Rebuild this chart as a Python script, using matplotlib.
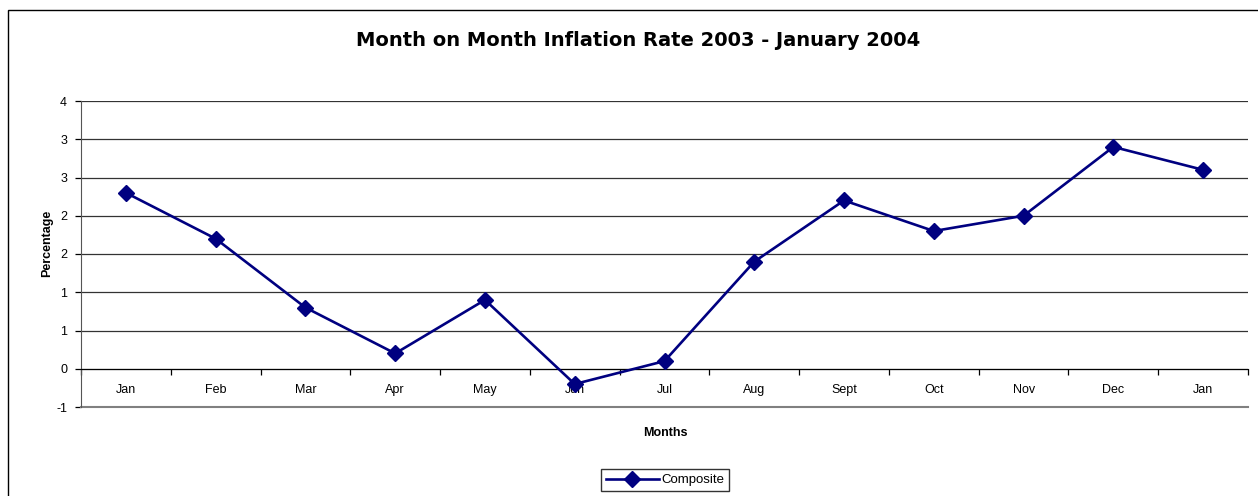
import numpy as np
import matplotlib.pyplot as plt
from matplotlib.patches import Rectangle
from matplotlib.ticker import FixedLocator

plt.rcParams['font.family'] = ['Liberation Sans', 'DejaVu Sans']
plt.rcParams['font.size'] = 9

months = ['Jan', 'Feb', 'Mar', 'Apr', 'May', 'Jun', 'Jul', 'Aug', 'Sept', 'Oct', 'Nov', 'Dec', 'Jan']
composite = [2.3, 1.7, 0.8, 0.2, 0.9, -0.2, 0.1, 1.4, 2.2, 1.8, 2.0, 2.9, 2.6]
y_ticks = [-0.5, 0.0, 0.5, 1.0, 1.5, 2.0, 2.5, 3.0, 3.5]


def excel_round(v):
    # labels are shown with no decimals, halves rounded away from zero
    return str(int(np.sign(v) * np.floor(abs(v) + 0.5)))


fig = plt.figure(figsize=(12.58, 4.96), dpi=100)
ax = fig.add_axes([81 / 1258, 1 - 407 / 496, (1248 - 81) / 1258, (407 - 101) / 496])

x = np.arange(len(months))
ax.plot(x, composite, color='#000080', lw=1.9, marker='D', markersize=8,
        markerfacecolor='#000080', markeredgecolor='#000080', label='Composite', zorder=3)

ax.set_xlim(-0.5, len(months) - 0.5)
ax.set_ylim(y_ticks[0], y_ticks[-1])

ax.yaxis.set_major_locator(FixedLocator(y_ticks))
ax.set_yticklabels([excel_round(v) for v in y_ticks])
ax.yaxis.grid(True, color='#333333', lw=0.9)
ax.set_axisbelow(True)
ax.tick_params(axis='y', length=4, width=0.9, direction='out', pad=6, labelsize=9)
# bottom gridline sits on the plot-area edge, keep it whole and grey
ax.axhline(y_ticks[0], color='#808080', lw=1.5, clip_on=False, zorder=1)

ax.spines['top'].set_visible(False)
ax.spines['right'].set_visible(False)
ax.spines['left'].set_color('#555555')
ax.spines['bottom'].set_position(('data', 0))
ax.spines['bottom'].set_color('black')

ax.xaxis.set_major_locator(FixedLocator(np.arange(-0.5, len(months), 1.0)))
ax.xaxis.set_minor_locator(FixedLocator(x))
ax.set_xticklabels([], minor=False)
ax.set_xticklabels(months, minor=True)
ax.tick_params(axis='x', which='major', length=4, width=0.9, direction='out')
ax.tick_params(axis='x', which='minor', length=0, pad=11, labelsize=9)

fig.text(638 / 1258, 1 - 41 / 496, 'Month on Month Inflation Rate 2003 - January 2004',
         ha='center', va='center', fontsize=14, fontweight='bold', family='DejaVu Sans')
fig.text(665 / 1258, 1 - 433 / 496, 'Months', ha='center', va='center',
         fontsize=9, fontweight='bold')
fig.text(47 / 1258, 1 - 243 / 496, 'Percentage', ha='center', va='center',
         rotation=90, fontsize=9, fontweight='bold')

fig.legend(loc='center', bbox_to_anchor=(665 / 1258, 1 - 480 / 496), frameon=True,
           fancybox=False, edgecolor='black', handlelength=4, borderpad=0.35,
           handletextpad=0.2, fontsize=9.5)

fig.patches.append(Rectangle((8 / 1258, -0.2), 1.2, 1.2 - 10 / 496, transform=fig.transFigure,
                             fill=False, edgecolor='black', lw=1))

fig.savefig('out.png', dpi=100)
